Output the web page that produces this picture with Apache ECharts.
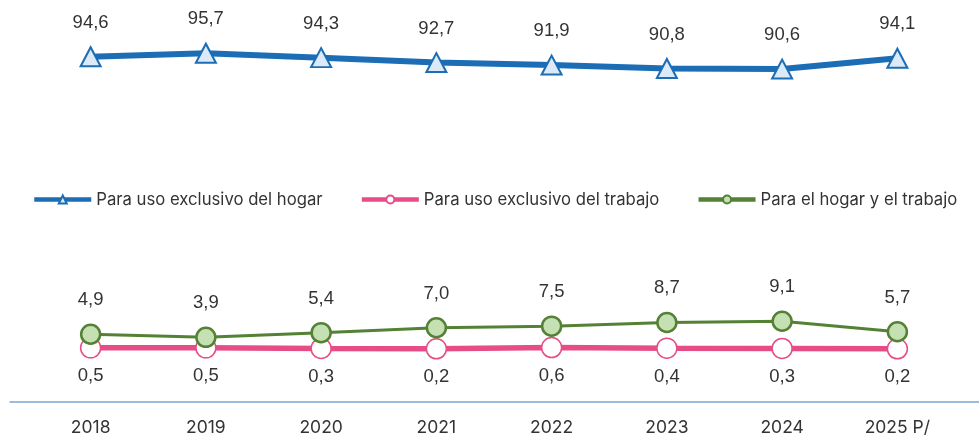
<!DOCTYPE html>
<html>
<head>
<meta charset="utf-8">
<script src="https://cdn.jsdelivr.net/npm/echarts@6/dist/echarts.min.js"></script>
<style>
    html, body { margin: 0; padding: 0; background: #fff; }
    #chart { width: 979px; height: 437px; }
</style>
</head>
<body>
<div id="chart"></div>
<script>
    // 数据
    const years = ['2018', '2019', '2020', '2021', '2022', '2023', '2024', '2025 P/'];
    const hogar = [94.6, 95.7, 94.3, 92.7, 91.9, 90.8, 90.6, 94.1];
    const trabajo = [0.5, 0.5, 0.3, 0.2, 0.6, 0.4, 0.3, 0.2];
    const ambos = [4.9, 3.9, 5.4, 7.0, 7.5, 8.7, 9.1, 5.7];

    const labelFont = 'Liberation Sans';
    const textFont = 'Inter';
    const fmt = p => p.value.toFixed(1).replace('.', ',');

    let myChart = echarts.init(document.getElementById('chart'));
    myChart.setOption({
        animation: false,
        legend: {
            left: 27,
            top: 186,
            itemWidth: 57,
            itemHeight: 10,
            itemGap: 37,
            lineStyle: { width: 4.5 },
            textStyle: { fontFamily: textFont, fontSize: 16.7, color: '#333' },
            data: ['Para uso exclusivo del hogar', 'Para uso exclusivo del trabajo', 'Para el hogar y el trabajo']
        },
        grid: [
            { left: 33, right: 24, top: 40, bottom: 35 },
            // 只用来画底部的长轴线
            { left: 10, right: 0, top: 40, bottom: 35 }
        ],
        xAxis: [
            {
                type: 'category',
                gridIndex: 0,
                data: years,
                axisLine: { show: false },
                axisTick: { show: false },
                axisLabel: { margin: 17, fontFamily: textFont, fontSize: 17.5, color: '#333' }
            },
            {
                type: 'category',
                gridIndex: 1,
                data: [''],
                axisLine: { lineStyle: { color: '#7aa6d6', width: 1.5 } },
                axisTick: { show: false },
                axisLabel: { show: false }
            }
        ],
        yAxis: [
            { type: 'value', gridIndex: 0, min: -17, max: 100, show: false },
            { type: 'value', gridIndex: 1, min: 0, max: 1, show: false }
        ],
        series: [
            {
                name: 'Para uso exclusivo del hogar',
                type: 'line',
                data: hogar,
                symbol: 'triangle',
                symbolSize: [20, 19],
                lineStyle: { color: '#1b6db5', width: 6 },
                itemStyle: { color: '#dce9f6', borderColor: '#1b6db5', borderWidth: 2 },
                label: {
                    show: true, position: 'top', distance: 14,
                    formatter: fmt, fontFamily: labelFont, fontSize: 18.5, color: '#333'
                }
            },
            {
                name: 'Para uso exclusivo del trabajo',
                type: 'line',
                data: trabajo,
                symbol: 'circle',
                symbolSize: 20,
                lineStyle: { color: '#e64d87', width: 5.5 },
                itemStyle: { color: '#ffffff', borderColor: '#e64d87', borderWidth: 1.5 },
                label: {
                    show: true, position: 'bottom', distance: 8,
                    formatter: fmt, fontFamily: labelFont, fontSize: 18.5, color: '#333'
                }
            },
            {
                name: 'Para el hogar y el trabajo',
                type: 'line',
                data: ambos,
                symbol: 'circle',
                symbolSize: 19,
                lineStyle: { color: '#538135', width: 3 },
                itemStyle: { color: '#c5e0b3', borderColor: '#538135', borderWidth: 2.5 },
                label: {
                    show: true, position: 'top', distance: 14,
                    formatter: fmt, fontFamily: labelFont, fontSize: 18.5, color: '#333'
                }
            }
        ]
    });
</script>
</body>
</html>
